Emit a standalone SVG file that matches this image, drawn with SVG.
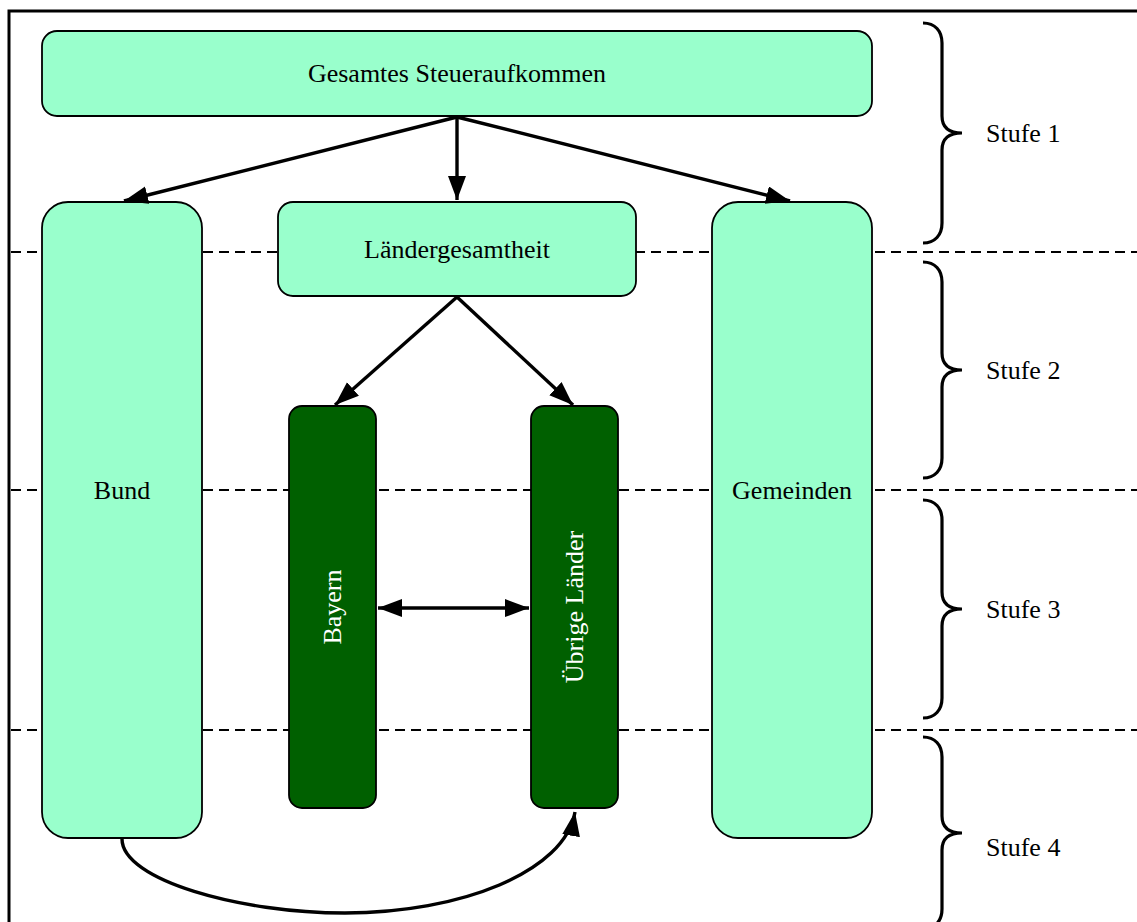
<svg xmlns="http://www.w3.org/2000/svg" width="1137" height="922" viewBox="0 0 1137 922">
<style>
.light{fill:#99FFCC;stroke:#000;stroke-width:1.8}
.dark{fill:#006000;stroke:#000;stroke-width:1.8}
.lbl{font-family:"Liberation Serif","Times New Roman",serif;font-size:26px;fill:#000}
.wlbl{font-family:"Liberation Serif","Times New Roman",serif;font-size:26px;fill:#fff}
.edge{fill:none;stroke:#000;stroke-width:3.4}
.dash{fill:none;stroke:#000;stroke-width:2.2;stroke-dasharray:10 6}
.brace{fill:none;stroke:#000;stroke-width:3.2}
</style>
<defs>
<marker id="ah" markerUnits="userSpaceOnUse" markerWidth="26" markerHeight="20" refX="24" refY="9" orient="auto">
<path d="M0,0 L24,9 L0,18 Z" fill="#000"/>
</marker>
<marker id="ahs" markerUnits="userSpaceOnUse" markerWidth="26" markerHeight="20" refX="0" refY="9" orient="auto">
<path d="M24,0 L0,9 L24,18 Z" fill="#000"/>
</marker>
</defs>
<rect x="9" y="11" width="1150" height="930" fill="#fff" stroke="#000" stroke-width="3"/>
<g id="levels">
<path class="dash" d="M11,252 H1137"/>
<path class="dash" d="M11,490 H1137"/>
<path class="dash" d="M11,730 H1137"/>
</g>
<g id="braces">
<path class="brace" d="M923,23 C935,23 942,31 942,43 L942,116 C942,128 950,133 962,133 C950,133 942,138 942,150 L942,223 C942,235 935,243 923,243"/>
<path class="brace" d="M923,262 C935,262 942,270 942,282 L942,353 C942,365 950,370 962,370 C950,370 942,375 942,387 L942,458 C942,470 935,478 923,478"/>
<path class="brace" d="M923,500 C935,500 942,508 942,520 L942,592 C942,604 950,609 962,609 C950,609 942,614 942,626 L942,698 C942,710 935,718 923,718"/>
<path class="brace" d="M923,737 C935,737 942,745 942,757 L942,816 C942,828 950,833 962,833 C950,833 942,838 942,850 L942,909 C942,921 935,929 923,929"/>
<text class="lbl" x="986" y="142">Stufe 1</text>
<text class="lbl" x="986" y="379">Stufe 2</text>
<text class="lbl" x="986" y="618">Stufe 3</text>
<text class="lbl" x="986" y="856">Stufe 4</text>
</g>
<g id="n-gesamt">
<rect class="light" x="42" y="31" width="830" height="85" rx="15"/>
<text class="lbl" x="457" y="82" text-anchor="middle">Gesamtes Steueraufkommen</text>
</g>
<g id="n-bund">
<rect class="light" x="42" y="202" width="160" height="636" rx="26"/>
<text class="lbl" x="122" y="499" text-anchor="middle">Bund</text>
</g>
<g id="n-laender">
<rect class="light" x="278" y="202" width="358" height="94" rx="15"/>
<text class="lbl" x="457" y="258" text-anchor="middle">Ländergesamtheit</text>
</g>
<g id="n-gemeinden">
<rect class="light" x="712" y="202" width="160" height="636" rx="26"/>
<text class="lbl" x="792" y="499" text-anchor="middle">Gemeinden</text>
</g>
<g id="n-bayern">
<rect class="dark" x="289" y="406" width="87" height="402" rx="13"/>
<text class="wlbl" transform="translate(341,607) rotate(-90)" text-anchor="middle">Bayern</text>
</g>
<g id="n-uebrige">
<rect class="dark" x="531" y="406" width="87" height="402" rx="13"/>
<text class="wlbl" transform="translate(583,607) rotate(-90)" text-anchor="middle">Übrige Länder</text>
</g>
<g id="connectors">
<path class="edge" d="M457,117 L124,201" marker-end="url(#ah)"/>
<path class="edge" d="M457,117 L457,200" marker-end="url(#ah)"/>
<path class="edge" d="M457,117 L790,201" marker-end="url(#ah)"/>
<path class="edge" d="M457,297 L335,405" marker-end="url(#ah)"/>
<path class="edge" d="M457,297 L573,405" marker-end="url(#ah)"/>
<path class="edge" d="M378,608 L529,608" marker-start="url(#ahs)" marker-end="url(#ah)"/>
<path class="edge" d="M122,839 C122,880 240,913 345,913 C460,913 565,872 575,812" marker-end="url(#ah)"/>
</g>
</svg>
